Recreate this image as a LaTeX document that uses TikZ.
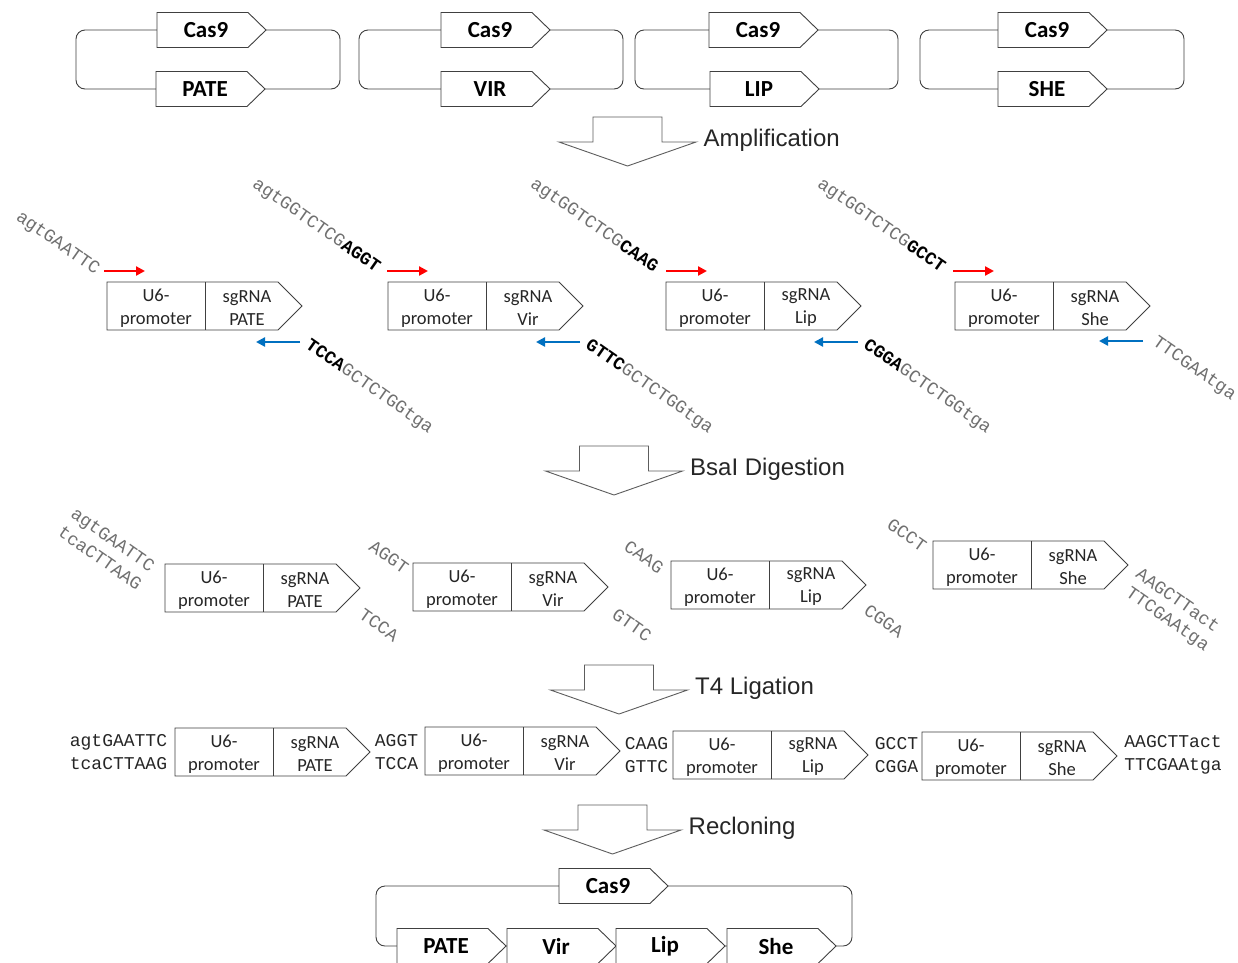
\documentclass[tikz,border=0pt]{standalone}
\usepackage{fontspec}
\setmainfont{Carlito}
\newfontfamily\arialf{Liberation Sans}
\newfontfamily\courf{Liberation Mono}
\usetikzlibrary{arrows.meta}
\definecolor{seqgray}{HTML}{707070}
\definecolor{linegray}{HTML}{404040}
\definecolor{arrred}{HTML}{FF0000}
\definecolor{arrblue}{HTML}{0070C0}
\definecolor{dark}{HTML}{262626}
\tikzset{
 outline/.style={draw=linegray, line width=0.9pt, fill=white, line join=miter},
 loopline/.style={draw=linegray, line width=0.9pt, rounded corners=9pt},
 genetext/.style={font=\fontsize{23}{27}\selectfont\bfseries, text=black, inner sep=0pt},
 celltext/.style={font=\fontsize{18.5}{23}\selectfont, align=center, text=dark, inner sep=0pt},
 seqrot/.style={font=\courf\fontsize{18}{20}\selectfont, text=seqgray, rotate=-35, inner sep=0pt},
 seqflat/.style={font=\courf\fontsize{18}{23}\selectfont, text=dark, align=center, inner sep=0pt},
 steplabel/.style={font=\arialf\fontsize{24}{28}\selectfont, text=dark, anchor=west, inner sep=0pt},
 bigarrow/.style={draw=linegray!85, line width=0.9pt, fill=white},
 redarr/.style={draw=arrred, line width=2.4pt, -{Triangle[length=9pt,width=9pt]}},
 bluearr/.style={draw=arrblue, line width=2.4pt, -{Triangle[length=9pt,width=9pt]}},
}
\newcommand\mygene[4]{%
 \draw[outline] (#2,#3-17.5) -- ++(91,0) -- ++(18,17.5) -- ++(-18,17.5) -- ++(-91,0) -- cycle;
 \node[genetext] (#1) at (#2+49,#3) {#4};
}
\newcommand\mycassette[4]{%
 \draw[outline] (#2,#3) -- ++(171,0) -- ++(24,24) -- ++(-24,24) -- ++(-171,0) -- cycle;
 \draw[draw=linegray, line width=0.9pt] (#2+98,#3) -- (#2+98,#3+48);
 \node[celltext] (#1u) at (#2+49,#3+26) {U6-\\promoter};
 \node[celltext] (#1s) at (#2+140,#3+26) {sgRNA\\#4};
}
\newcommand\myblock[4]{%
 \draw[bigarrow] (#2-34.5,#3) -- (#2+34.5,#3) -- (#2+34.5,#3+25) -- (#2+68.5,#3+25) -- (#2,#3+49) -- (#2-68.5,#3+25) -- (#2-34.5,#3+25) -- cycle;
 \node[steplabel] (#1) at (#2+76,#3+23) {#4};
}
\newcommand\bk[1]{\textcolor{black}{\bfseries #1}}
\begin{document}
\begin{tikzpicture}[x=1pt,y=-1pt]
\useasboundingbox (0,0) rectangle (1238,962);
\fill[white] (0,0) rectangle (1238,962);

% top plasmids
\draw[loopline] (76,30) rectangle (340,89);
\mygene{pAcas}{157}{30}{Cas9}
\mygene{pApate}{156}{89}{PATE}
\draw[loopline] (359,30) rectangle (623,89);
\mygene{pBcas}{441}{30}{Cas9}
\mygene{pBvir}{441}{89}{VIR}
\draw[loopline] (635,30) rectangle (898,89);
\mygene{pCcas}{709}{30}{Cas9}
\mygene{pClip}{710}{89}{LIP}
\draw[loopline] (920,30) rectangle (1184,89);
\mygene{pDcas}{998}{30}{Cas9}
\mygene{pDshe}{998}{89}{SHE}

% step arrows
\myblock{amp}{627.5}{117}{Amplification}
\myblock{dig}{614}{446}{BsaI Digestion}
\myblock{lig}{619}{665}{T4 Ligation}
\myblock{reclone}{612.5}{805}{Recloning}

% amplification row
\mycassette{a1}{107}{282}{PATE}
\mycassette{a2}{388}{282}{Vir}
\mycassette{a3}{666}{282}{Lip}
\mycassette{a4}{955}{282}{She}
\draw[redarr] (104,271) -- (145,271);
\draw[redarr] (387,271) -- (428,271);
\draw[redarr] (666,271) -- (707,271);
\draw[redarr] (953,271) -- (994,271);
\draw[bluearr] (300,342) -- (256,342);
\draw[bluearr] (580,342) -- (536,342);
\draw[bluearr] (858,342) -- (814,342);
\draw[bluearr] (1143,341) -- (1099,341);
\node[seqrot] (f1) at (57.5,243.5) {agtGAATTC};
\node[seqrot] (f2) at (316,226) {agtGGTCTCG\bk{AGGT}};
\node[seqrot] (f3) at (594,226) {agtGGTCTCG\bk{CAAG}};
\node[seqrot] (f4) at (881,226) {agtGGTCTCG\bk{GCCT}};
\node[seqrot] (r1) at (369,387) {\bk{TCCA}GCTCTGGtga};
\node[seqrot] (r2) at (649,387) {\bk{GTTC}GCTCTGGtga};
\node[seqrot] (r3) at (927,387) {\bk{CGGA}GCTCTGGtga};
\node[seqrot] (r4) at (1194,369) {TTCGAAtga};

% digestion row
\mycassette{d1}{165}{564}{PATE}
\mycassette{d2}{413}{563}{Vir}
\mycassette{d3}{671}{561}{Lip}
\mycassette{d4}{933}{541}{She}
\node[seqrot] (d1a) at (112,541) {agtGAATTC};
\node[seqrot] (d1b) at (100,558) {tcaCTTAAG};
\node[seqrot] (d2a) at (389,557) {AGGT};
\node[seqrot] (d2b) at (379,625) {TCCA};
\node[seqrot] (d3a) at (644,557) {CAAG};
\node[seqrot] (d3b) at (632,625) {GTTC};
\node[seqrot] (d4a) at (907,535) {GCCT};
\node[seqrot] (d4b) at (884,621) {CGGA};
\node[seqrot] (d5a) at (1178,600) {AAGCTTact};
\node[seqrot] (d5b) at (1167,620) {TTCGAAtga};

% ligation row
\mycassette{l1}{175}{728}{PATE}
\mycassette{l2}{425}{727}{Vir}
\mycassette{l3}{673}{731}{Lip}
\mycassette{l4}{922}{732}{She}
\node[seqflat] (j1) at (118.5,752) {agtGAATTC\\tcaCTTAAG};
\node[seqflat] (j2) at (396.5,752) {AGGT\\TCCA};
\node[seqflat] (j3) at (646.5,755) {CAAG\\GTTC};
\node[seqflat] (j4) at (896.5,755) {GCCT\\CGGA};
\node[seqflat] (j5) at (1173,755) {AAGCTTact\\TTCGAAtga};

% final plasmid
\draw[loopline] (376,886) rectangle (852,946);
\mygene{fcas}{559}{886}{Cas9}
\mygene{fpate}{397}{946}{PATE}
\mygene{fvir}{507}{946}{Vir}
\mygene{flip}{616}{946}{Lip}
\mygene{fshe}{727}{946}{She}
\end{tikzpicture}
\end{document}
